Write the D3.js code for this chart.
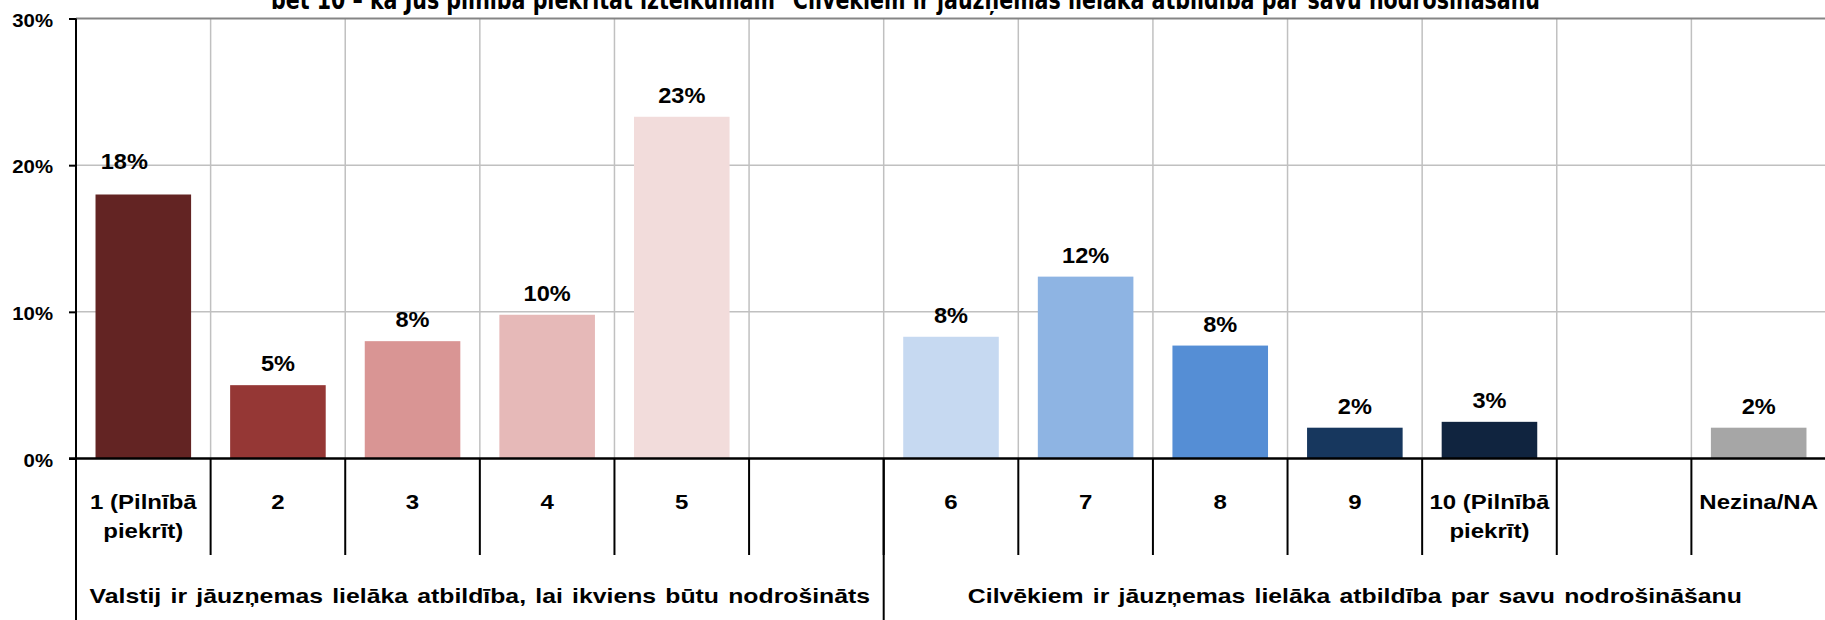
<!DOCTYPE html>
<html lang="lv">
    <head>
        <meta charset="utf-8">
        <title>Atbildība par nodrošināšanu</title>

        <script src="https://d3js.org/d3.v7.min.js"></script>

        <style>
            body {
                margin: 0;
                background-color: #FFFFFF;
                overflow: hidden;
            }

            svg {
                display: block;
                font-family: "Liberation Sans", Arial, sans-serif;
                font-weight: bold;
            }

            .grid line {
                stroke: #C0C0C0;
                stroke-width: 1.5;
            }
        </style>
    </head>
    <body>
        <svg id="chart"></svg>

        <script>
            //data
            const title = "bet 10 – kā Jūs pilnībā piekrītat izteikumam \"Cilvēkiem ir jāuzņemas lielāka atbildība par savu nodrošināšanu";
            const categories = ["1 (Pilnībā\npiekrīt)", "2", "3", "4", "5", "", "6", "7", "8", "9", "10 (Pilnībā\npiekrīt)", "", "Nezina/NA"];
            const values = [18.0, 5.0, 8.0, 9.8, 23.3, null, 8.3, 12.4, 7.7, 2.1, 2.5, null, 2.1];
            const colors = ["#632423", "#953735", "#D99594", "#E6B9B8", "#F2DCDB", null,
                            "#C6D9F1", "#8EB4E3", "#558ED5", "#17375E", "#10243F", null, "#A6A6A6"];
            const groups = ["Valstij ir jāuzņemas lielāka atbildība, lai ikviens būtu nodrošināts",
                            "Cilvēkiem ir jāuzņemas lielāka atbildība par savu nodrošināšanu"];
            const groupSizes = [6, 7];
            const yTicks = [0, 10, 20, 30];

            //chart dimensions
            const width = 1825, height = 620;
            const plotLeft = 76, plotRight = 1826, plotTop = 18.5, plotBottom = 458.5;

            const svg = d3.select("#chart")
                .attr("width", width)
                .attr("height", height);

            //stretch text horizontally like the original
            function stretch(sel, k) {
                sel.each(function() {
                    const w = this.getComputedTextLength();
                    d3.select(this).attr("textLength", w * k).attr("lengthAdjust", "spacingAndGlyphs");
                });
            }

            //scales
            const xScale = d3.scaleBand()
                .domain(d3.range(categories.length))
                .range([plotLeft, plotRight])
                .paddingInner(0.29)
                .paddingOuter(0.145);

            const yScale = d3.scaleLinear()
                .domain([0, 30])
                .range([plotBottom, plotTop]);

            const step = xScale.step();
            const edge = d => plotLeft + d * step;

            //horizontal gridlines
            svg.append("g")
                .attr("class", "grid")
                .selectAll("line")
                .data(yTicks.filter(t => t > 0 && t < 30))
                .join("line")
                .attr("x1", plotLeft).attr("x2", plotRight)
                .attr("y1", d => yScale(d)).attr("y2", d => yScale(d));

            //vertical gridlines
            svg.append("g")
                .attr("class", "grid")
                .selectAll("line")
                .data(d3.range(1, categories.length + 1))
                .join("line")
                .attr("x1", edge).attr("x2", edge)
                .attr("y1", plotTop).attr("y2", plotBottom);

            //top border
            svg.append("line")
                .attr("x1", plotLeft).attr("x2", plotRight)
                .attr("y1", yScale(30)).attr("y2", yScale(30))
                .attr("stroke", "#858585").attr("stroke-width", 2);

            //bars
            const idx = d3.range(categories.length).filter(i => values[i] != null);

            svg.selectAll(".bar")
                .data(idx)
                .join("rect")
                .attr("class", "bar")
                .attr("x", i => xScale(i))
                .attr("y", i => yScale(values[i]))
                .attr("width", xScale.bandwidth())
                .attr("height", i => plotBottom - yScale(values[i]))
                .attr("fill", i => colors[i]);

            //value labels, the first one was moved by hand in the original
            const nudge = { 0: [-19, -12] };
            svg.selectAll(".value")
                .data(idx)
                .join("text")
                .attr("class", "value")
                .attr("x", i => xScale(i) + xScale.bandwidth() / 2 + (nudge[i] ? nudge[i][0] : 0))
                .attr("y", i => yScale(values[i]) - 14 + (nudge[i] ? nudge[i][1] : 0))
                .attr("text-anchor", "middle")
                .attr("font-size", 22)
                .text(i => Math.round(values[i]) + "%")
                .call(stretch, 1.07);

            //y axis
            const yAxis = d3.axisLeft(yScale)
                .tickValues(yTicks)
                .tickFormat(d => d + "%")
                .tickSize(7)
                .tickPadding(16);

            const yG = svg.append("g")
                .attr("transform", `translate(${plotLeft}, 0)`)
                .call(yAxis);
            yG.select(".domain").remove();
            yG.selectAll("line").attr("stroke", "#000").attr("stroke-width", 2);
            yG.selectAll("text")
                .attr("font-size", 19)
                .attr("font-family", null)
                .attr("fill", "#000")
                .attr("dy", "0.4em")
                .call(stretch, 1.07);

            //axis lines
            svg.append("line")
                .attr("x1", plotLeft).attr("x2", plotLeft)
                .attr("y1", plotTop).attr("y2", height)
                .attr("stroke", "#000").attr("stroke-width", 2);

            svg.append("line")
                .attr("x1", plotLeft - 7).attr("x2", plotRight)
                .attr("y1", plotBottom).attr("y2", plotBottom)
                .attr("stroke", "#000").attr("stroke-width", 2.5);

            //category separators below the axis
            svg.append("g")
                .selectAll("line")
                .data(d3.range(1, categories.length + 1))
                .join("line")
                .attr("x1", edge).attr("x2", edge)
                .attr("y1", plotBottom).attr("y2", 555)
                .attr("stroke", "#000").attr("stroke-width", 2);

            //category labels
            categories.forEach((c, i) => {
                c.split("\n").forEach((line, j) => {
                    svg.append("text")
                        .attr("x", xScale(i) + xScale.bandwidth() / 2)
                        .attr("y", 509 + j * 29)
                        .attr("text-anchor", "middle")
                        .attr("font-size", 20)
                        .text(line)
                        .call(stretch, 1.2);
                });
            });

            //group separators and labels
            let start = 0;
            groups.forEach((g, k) => {
                const x0 = edge(start);
                const x1 = edge(start + groupSizes[k]);
                svg.append("line")
                    .attr("x1", x1).attr("x2", x1)
                    .attr("y1", plotBottom).attr("y2", height)
                    .attr("stroke", "#000").attr("stroke-width", 2);
                svg.append("text")
                    .attr("x", (x0 + x1) / 2)
                    .attr("y", 603)
                    .attr("text-anchor", "middle")
                    .attr("font-size", 21)
                    .attr("word-spacing", 2)
                    .text(g)
                    .call(stretch, 1.18);
                start += groupSizes[k];
            });

            //title, cut off at the top in the original
            svg.append("text")
                .attr("x", 271)
                .attr("y", 9)
                .attr("font-family", "'Liberation Sans Narrow', 'DejaVu Sans Condensed', sans-serif")
                .attr("font-size", 26)
                .attr("textLength", 1269)
                .attr("lengthAdjust", "spacingAndGlyphs")
                .text(title);
        </script>
    </body>
</html>
